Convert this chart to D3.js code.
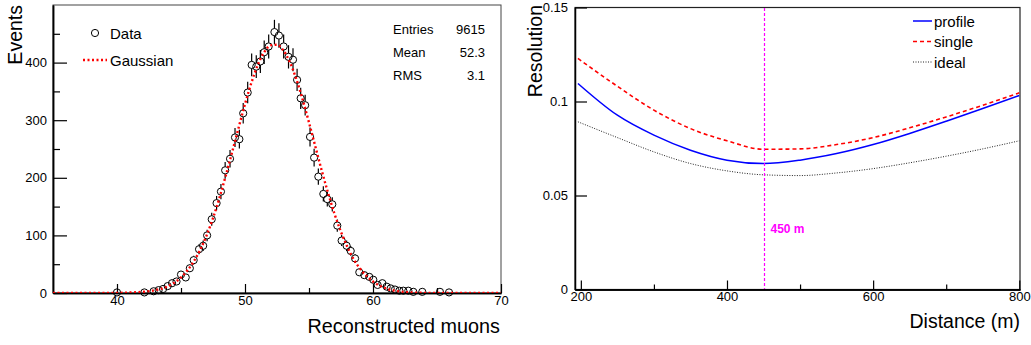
<!DOCTYPE html>
<html>
<head>
<meta charset="utf-8">
<script src="https://cdn.jsdelivr.net/npm/d3@7"></script>
<style>
  body { margin: 0; background: #fff; }
  svg text { font-family: "Liberation Sans", Arial, sans-serif; fill: #000; }
</style>
</head>
<body>
<div id="chart"></div>
<script>
// ---- left panel: histogram of reconstructed muons ----
const muons = [40.0, 42.14, 42.86, 43.25, 43.6, 43.96, 44.3, 44.65, 45.0, 45.37, 45.69, 45.99,
  46.41, 46.73, 47.04, 47.4, 47.78, 48.12, 48.45, 48.83, 49.22, 49.56, 49.86, 50.21, 50.52,
  50.88, 51.2, 51.5, 51.85, 52.3, 52.65, 53.02, 53.4, 53.75, 54.07, 54.35, 54.7, 55.08, 55.4,
  55.73, 56.12, 56.43, 56.82, 57.21, 57.55, 57.94, 58.26, 58.6, 58.93, 59.32, 59.71, 60.02,
  60.36, 60.73, 61.07, 61.38, 61.72, 62.06, 62.37, 62.76, 63.15, 63.85, 65.23, 65.94];
const events = [1, 1, 3, 5, 7, 12, 17, 20, 32, 27, 43, 57,
  76, 82, 100, 128, 156, 176, 213, 233, 270, 267, 312, 348, 396,
  393, 402, 418, 428, 453, 447, 428, 410, 405, 370, 338, 326, 271, 235,
  202, 172, 163, 154, 117, 91, 82, 73, 60, 36, 31, 28, 23,
  14, 17, 11, 8, 6, 4, 4, 4, 2, 2, 2, 1];

// fitted gaussian
const fitX = [35, 40, 41, 42, 43, 44, 45, 46, 46.5, 47, 47.5, 48, 48.5, 49, 49.5, 50, 50.5, 51, 51.5,
  52, 52.5, 53, 53.5, 54, 54.5, 55, 55.5, 56, 56.5, 57, 57.5, 58, 58.5, 59, 60, 61, 62, 63, 64, 70];
const fitY = [0, 0.2, 0.8, 2, 5, 12, 27, 55, 75, 100, 130, 165, 204, 245, 287, 328, 365, 396, 418,
  430, 431, 421, 401, 372, 336, 296, 254, 212, 173, 137, 106, 80, 58, 42, 20, 8, 3, 1, 0.3, 0];

const statLabels = ['Entries', 'Mean', 'RMS'];
const statValues = ['9615', '52.3', '3.1'];

// ---- right panel: resolution vs distance ----
const distance = [196, 250, 300, 350, 400, 450, 500, 550, 600, 650, 700, 750, 800];
const profile = [0.1096, 0.0927, 0.0821, 0.0741, 0.0688, 0.0670, 0.0688, 0.0723, 0.0771, 0.0830, 0.0895, 0.0963, 0.1032];
const single  = [0.1229, 0.1081, 0.0954, 0.0856, 0.0791, 0.0746, 0.0748, 0.0771, 0.0808, 0.0860, 0.0918, 0.0980, 0.1046];
const ideal   = [0.0892, 0.0808, 0.0732, 0.0670, 0.0631, 0.0610, 0.0606, 0.0620, 0.0643, 0.0674, 0.0709, 0.0748, 0.0791];
const markerDistance = 450;

const W = 1031, H = 345;
const svg = d3.select('#chart').append('svg').attr('width', W).attr('height', H);

// ======== left panel ========
const xL = d3.scaleLinear().domain([35, 70]).range([53, 501]);
const yL = d3.scaleLinear().domain([0, 500]).range([293, 5]);

const left = svg.append('g');
left.append('clipPath').attr('id', 'clipL').append('rect')
  .attr('x', 53).attr('y', 5).attr('width', 448).attr('height', 288);

// frame
left.append('rect').attr('x', 53).attr('y', 5).attr('width', 448).attr('height', 288)
  .attr('fill', 'none').attr('stroke', '#444').attr('stroke-width', 1);

function styleAxis(g) {
  g.select('.domain').attr('stroke', '#000').attr('stroke-width', 1.5);
  g.selectAll('.tick line').attr('stroke', '#000').attr('stroke-width', 1.2);
  g.selectAll('text').attr('font-size', 13).attr('fill', '#111')
    .style('font-family', '"Liberation Sans", Arial, sans-serif');
}

left.append('g').attr('transform', 'translate(53,0)')
  .call(d3.axisLeft(yL).tickValues([50, 150, 250, 350, 450]).tickSize(-7).tickSizeOuter(0).tickFormat(''))
  .call(styleAxis);
left.append('g').attr('transform', 'translate(53,0)')
  .call(d3.axisLeft(yL).tickValues([0, 100, 200, 300, 400]).tickSize(-14).tickSizeOuter(0).tickPadding(6))
  .call(styleAxis);

left.append('g').attr('transform', 'translate(0,293)')
  .call(d3.axisBottom(xL).tickValues([45, 55, 65]).tickSize(-5).tickSizeOuter(0).tickFormat(''))
  .call(styleAxis);
left.append('g').attr('transform', 'translate(0,293)')
  .call(d3.axisBottom(xL).tickValues([40, 50, 60, 70]).tickSize(-9).tickSizeOuter(0).tickPadding(3))
  .call(styleAxis);

left.append('text').attr('transform', 'translate(22,5) rotate(-90)')
  .attr('text-anchor', 'end').attr('font-size', 19.5).text('Events');
left.append('text').attr('x', 500).attr('y', 333)
  .attr('text-anchor', 'end').attr('font-size', 19.8).text('Reconstructed muons');

// data points with error bars
const pts = muons.map((m, i) => ({ x: m, y: events[i] }));
const r = 3.6;
const bars = left.append('g').attr('clip-path', 'url(#clipL)');
pts.forEach(p => {
  const e = Math.sqrt(p.y);
  const cx = xL(p.x), cy = yL(p.y);
  const top = yL(p.y + e), bot = yL(Math.max(0, p.y - e));
  if (cy - r > top) bars.append('line').attr('x1', cx).attr('x2', cx).attr('y1', top).attr('y2', cy - r)
    .attr('stroke', '#000').attr('stroke-width', 1.2);
  if (bot > cy + r) bars.append('line').attr('x1', cx).attr('x2', cx).attr('y1', cy + r).attr('y2', bot)
    .attr('stroke', '#000').attr('stroke-width', 1.2);
});
left.append('g').selectAll('circle').data(pts).join('circle')
  .attr('cx', d => xL(d.x)).attr('cy', d => yL(d.y)).attr('r', r)
  .attr('fill', 'none').attr('stroke', '#000').attr('stroke-width', 1);

const fitLine = d3.line().x(d => xL(d[0])).y(d => yL(d[1])).curve(d3.curveMonotoneX);
left.append('path').datum(fitX.map((x, i) => [x, fitY[i]]))
  .attr('clip-path', 'url(#clipL)')
  .attr('d', fitLine).attr('fill', 'none').attr('stroke', '#f00')
  .attr('stroke-width', 2.4).attr('stroke-dasharray', '2 2.5');

// legend
left.append('circle').attr('cx', 95).attr('cy', 33).attr('r', r)
  .attr('fill', 'none').attr('stroke', '#000');
left.append('text').attr('x', 110).attr('y', 38.5).attr('font-size', 15).text('Data');
left.append('line').attr('x1', 83).attr('x2', 107).attr('y1', 60).attr('y2', 60)
  .attr('stroke', '#f00').attr('stroke-width', 2.4).attr('stroke-dasharray', '2 2.5');
left.append('text').attr('x', 110).attr('y', 65.5).attr('font-size', 15).text('Gaussian');

// stats box
statLabels.forEach((s, i) => {
  left.append('text').attr('x', 393).attr('y', 34 + i * 23).attr('font-size', 13).text(s);
  left.append('text').attr('x', 485).attr('y', 34 + i * 23).attr('font-size', 13)
    .attr('text-anchor', 'end').text(statValues[i]);
});

// ======== right panel ========
const xR = d3.scaleLinear().domain([192, 801]).range([575, 1020]);
const yR = d3.scaleLinear().domain([0, 0.15]).range([289.5, 7.5]);

const right = svg.append('g');
right.append('rect').attr('x', 575).attr('y', 7.5).attr('width', 445).attr('height', 282)
  .attr('fill', 'none').attr('stroke', '#222').attr('stroke-width', 1.2);

right.append('g').attr('transform', 'translate(575,0)')
  .call(d3.axisLeft(yR).tickValues([0, 0.05, 0.1, 0.15]).tickSize(-12).tickSizeOuter(0).tickPadding(7)
    .tickFormat(d => d === 0 ? '0' : String(d)))
  .call(styleAxis);
right.append('g').attr('transform', 'translate(0,289.5)')
  .call(d3.axisBottom(xR).tickValues([300, 500, 700]).tickSize(-5).tickSizeOuter(0).tickFormat(''))
  .call(styleAxis);
right.append('g').attr('transform', 'translate(0,289.5)')
  .call(d3.axisBottom(xR).tickValues([200, 400, 600, 800]).tickSize(-9).tickSizeOuter(0).tickPadding(2))
  .call(styleAxis);

right.append('text').attr('transform', 'translate(542,5) rotate(-90)')
  .attr('text-anchor', 'end').attr('font-size', 19.5).text('Resolution');
right.append('text').attr('x', 1020).attr('y', 328)
  .attr('text-anchor', 'end').attr('font-size', 19.5).text('Distance (m)');

const curves = [
  { name: 'profile', vals: profile, color: '#00f', dash: null, width: 1.5 },
  { name: 'single', vals: single, color: '#f00', dash: '4 3', width: 1.6 },
  { name: 'ideal', vals: ideal, color: '#222', dash: '1 1.5', width: 1 }
];
const rLine = d3.line().x(d => xR(d[0])).y(d => yR(d[1])).curve(d3.curveMonotoneX);
curves.forEach((c, i) => {
  right.append('path').datum(distance.map((x, j) => [x, c.vals[j]]))
    .attr('d', rLine).attr('fill', 'none').attr('stroke', c.color)
    .attr('stroke-width', c.width).attr('stroke-dasharray', c.dash);
  const ly = 21 + i * 20.5;
  right.append('line').attr('x1', 913).attr('x2', 932).attr('y1', ly).attr('y2', ly)
    .attr('stroke', c.color).attr('stroke-width', c.width).attr('stroke-dasharray', c.dash);
  right.append('text').attr('x', 934).attr('y', ly + 5.5).attr('font-size', 15).text(c.name);
});

// 450 m marker
const mx = Math.round(xR(markerDistance)) + 0.5;
right.append('line').attr('x1', mx).attr('x2', mx)
  .attr('y1', 8).attr('y2', 289)
  .style('stroke', '#ff00ff').style('stroke-width', 1.2).style('stroke-dasharray', '3 2');
right.append('text').attr('x', mx + 6).attr('y', 233)
  .attr('font-size', 12).attr('font-weight', 'bold').style('fill', '#ff00ff').text('450 m');
</script>
</body>
</html>
